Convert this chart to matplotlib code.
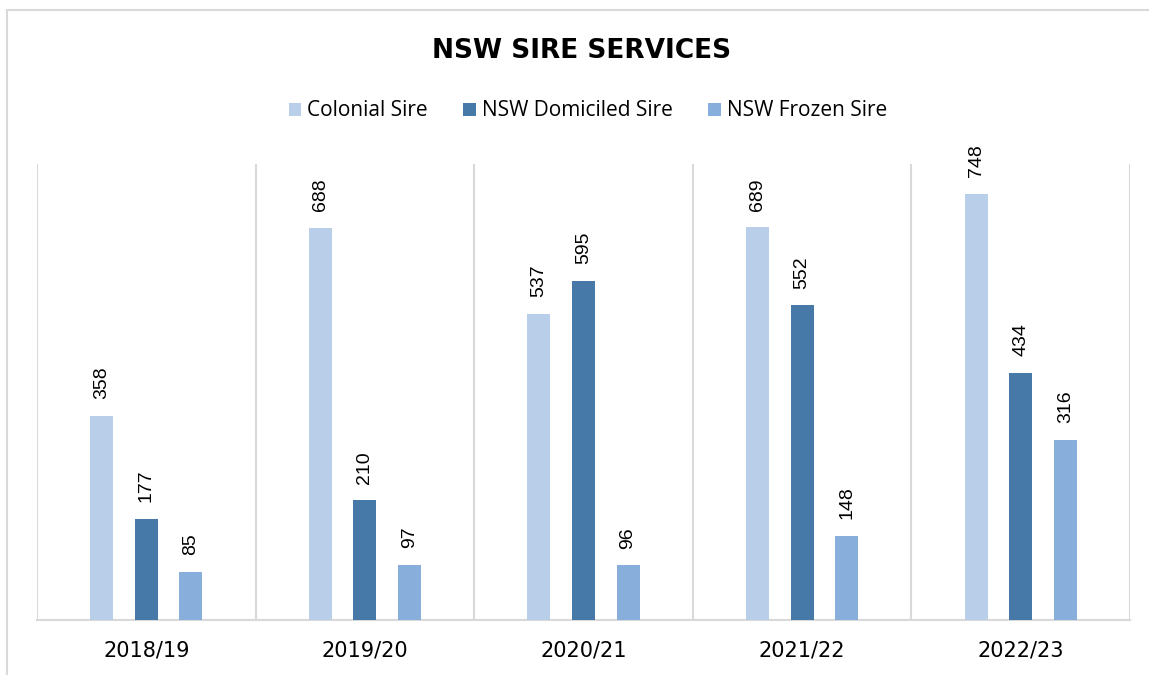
import numpy as np
import matplotlib.pyplot as plt
from matplotlib.patches import Rectangle

years = ['2018/19', '2019/20', '2020/21', '2021/22', '2022/23']
colonial = [358, 688, 537, 689, 748]
domiciled = [177, 210, 595, 552, 434]
frozen = [85, 97, 96, 148, 316]

series = [('Colonial Sire', colonial, '#B9CEE9'),
          ('NSW Domiciled Sire', domiciled, '#4678A8'),
          ('NSW Frozen Sire', frozen, '#88AFDC')]

plt.rcParams['font.family'] = ['Open Sans', 'DejaVu Sans']

fig = plt.figure(figsize=(11.49, 6.75), dpi=100)
ax = fig.add_axes([37/1149, 55/675, (1130-37)/1149, (620-164)/675])

x = np.arange(len(years))
width = 0.105
offsets = [-0.204, 0, 0.204]

for (name, vals, col), off in zip(series, offsets):
    bars = ax.bar(x + off, vals, width, color=col, label=name, zorder=3)
    for b, v in zip(bars, vals):
        ax.annotate(str(v), (b.get_x() + b.get_width()/2, v),
                    xytext=(0, 12), textcoords='offset points',
                    rotation=90, ha='center', va='bottom',
                    fontsize=14, family=['Liberation Sans', 'DejaVu Sans'])

ax.set_xlim(-0.5, len(years) - 0.5)
ax.set_ylim(0, 800)
for b in np.arange(-0.5, len(years), 1.0):
    ax.axvline(b, color='#D9D9D9', lw=1.5, zorder=1)

for s in ['top', 'left', 'right']:
    ax.spines[s].set_visible(False)
ax.spines['bottom'].set_color('#D9D9D9')
ax.spines['bottom'].set_linewidth(1.5)
ax.set_yticks([])
ax.set_xticks(x)
ax.set_xticklabels(years, fontsize=15, family=['DejaVu Sans'])
ax.tick_params(axis='x', length=0, pad=15)

fig.text(582/1149, 1 - 51/675, 'NSW SIRE SERVICES', ha='center', va='center',
         fontsize=19, fontweight='bold', family=['DejaVu Sans'])

fig.legend(loc='center', bbox_to_anchor=(588/1149, 1 - 111/675), ncol=3,
           frameon=False, fontsize=15, handlelength=0.6, handleheight=0.6,
           handletextpad=0.3, columnspacing=1.7)

fig.patches.append(Rectangle((7/1149, -0.1), 1.2, 1.1 - 10/675,
                             transform=fig.transFigure, fill=False,
                             edgecolor='#D9D9D9', lw=1.5))

fig.savefig('out.png', dpi=100)
